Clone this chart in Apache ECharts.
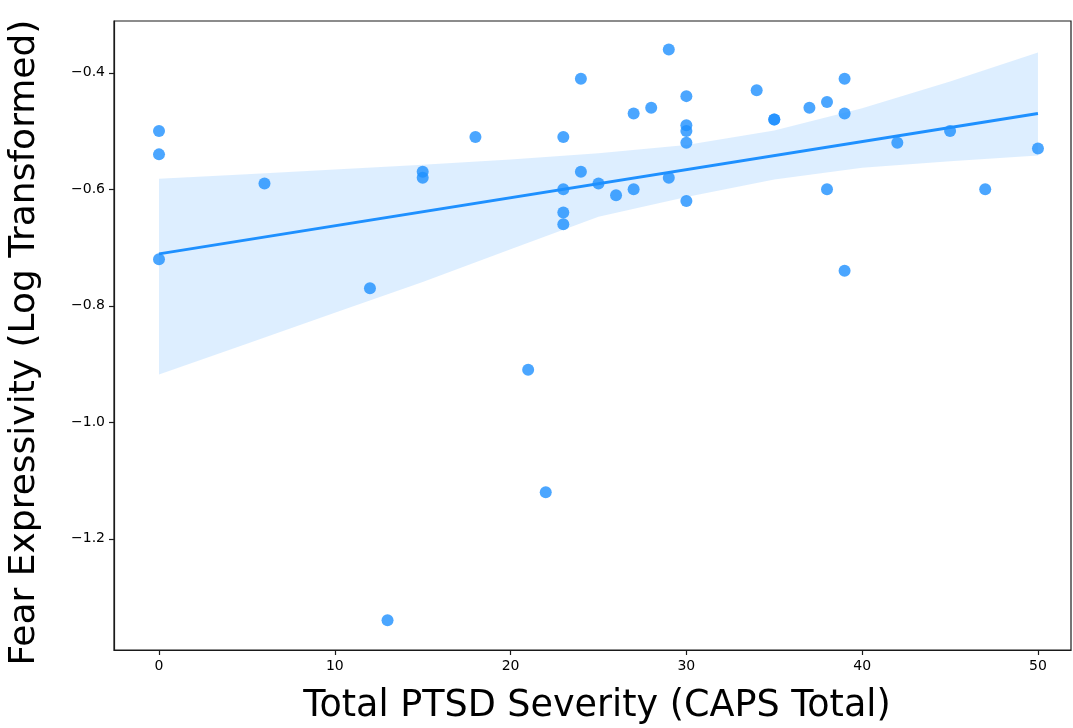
<!DOCTYPE html>
<html>
<head>
<meta charset="utf-8">
<title>Fear Expressivity vs PTSD Severity</title>
<script src="https://cdn.jsdelivr.net/npm/echarts@6/dist/echarts.min.js"></script>
<style>
  html, body { margin: 0; padding: 0; background: #fff; }
  #chart { width: 1073px; height: 728px; }
</style>
</head>
<body>
<div id="chart"></div>
<script>
// Participants: CAPS total score and log-transformed fear expressivity
const capsTotal = [0, 0, 0, 6, 12, 13, 15, 15, 18, 21, 22, 23, 23, 23, 23, 24, 24, 25, 26, 27, 27, 28, 29, 29,
  30, 30, 30, 30, 30, 34, 35, 35, 37, 38, 38, 39, 39, 39, 42, 45, 47, 50];
const fearExpr = [-0.50, -0.54, -0.72, -0.59, -0.77, -1.34, -0.57, -0.58, -0.51, -0.91, -1.12, -0.51, -0.60, -0.64, -0.66, -0.41, -0.57, -0.59, -0.61, -0.47, -0.60, -0.46, -0.36, -0.58,
  -0.44, -0.49, -0.50, -0.52, -0.62, -0.43, -0.48, -0.48, -0.46, -0.45, -0.60, -0.41, -0.47, -0.74, -0.52, -0.50, -0.60, -0.53];

// 95% confidence band around the fitted line
const bandX = [0, 5, 10, 15, 20, 25, 30, 35, 40, 45, 50];
const bandUpper = [-0.582, -0.574, -0.566, -0.558, -0.549, -0.538, -0.524, -0.499, -0.461, -0.415, -0.365];
const bandLower = [-0.918, -0.865, -0.812, -0.759, -0.703, -0.647, -0.613, -0.583, -0.563, -0.552, -0.542];

// Tick marks
const xTicks = [0, 10, 20, 30, 40, 50];
const yTicks = [-1.2, -1.0, -0.8, -0.6, -0.4];

// Ordinary least squares fit
function olsFit(xs, ys) {
  const n = xs.length;
  const mx = xs.reduce((a, b) => a + b, 0) / n;
  const my = ys.reduce((a, b) => a + b, 0) / n;
  let sxy = 0, sxx = 0;
  for (let i = 0; i < n; i++) {
    sxy += (xs[i] - mx) * (ys[i] - my);
    sxx += (xs[i] - mx) * (xs[i] - mx);
  }
  const slope = sxy / sxx;
  return { slope, intercept: my - slope * mx };
}
const fit = olsFit(capsTotal, fearExpr);
const xLo = Math.min(...capsTotal), xHi = Math.max(...capsTotal);
const fitLine = [[xLo, fit.intercept + fit.slope * xLo], [xHi, fit.intercept + fit.slope * xHi]];

const points = capsTotal.map((x, i) => [x, fearExpr[i]]);
const bandData = bandX.map((x, i) => [x, bandLower[i], bandUpper[i]]);

const FONT = 'DejaVu Sans';
const fmtMinus = v => String(Number(v).toFixed(1)).replace('-', '\u2212');

const chart = echarts.init(document.getElementById('chart'), null, { renderer: 'canvas' });
chart.setOption({
  animation: false,
  backgroundColor: '#ffffff',
  grid: {
    left: 114, top: 21, right: 2, bottom: 78,
    outerBoundsMode: 'none',
    containLabel: false,
    show: true, borderColor: '#1a1a1a', borderWidth: 1.2, backgroundColor: 'transparent'
  },
  xAxis: {
    type: 'value',
    min: -2.56, max: 51.88,
    name: 'Total PTSD Severity (CAPS Total)',
    nameLocation: 'middle',
    nameGap: 38,
    nameTextStyle: { fontFamily: FONT, fontSize: 36.5, color: '#000', padding: [0, 0, 0, 9] },
    axisLine: { show: true, onZero: false, lineStyle: { color: '#1a1a1a', width: 1.2 } },
    axisTick: { show: true, inside: false, length: 5, customValues: xTicks, lineStyle: { color: '#1a1a1a', width: 1.2 } },
    axisLabel: { customValues: xTicks, fontFamily: FONT, fontSize: 14, color: '#000', margin: 9 },
    splitLine: { show: false }
  },
  yAxis: {
    type: 'value',
    min: -1.391, max: -0.311,
    name: 'Fear Expressivity (Log Transformed)',
    nameLocation: 'middle',
    nameGap: 71,
    nameRotate: 90,
    nameTextStyle: { fontFamily: FONT, fontSize: 36, color: '#000', padding: [0, 14, 0, 0] },
    axisLine: { show: true, onZero: false, lineStyle: { color: '#1a1a1a', width: 1.2 } },
    axisTick: { show: true, inside: false, length: 5, customValues: yTicks, lineStyle: { color: '#1a1a1a', width: 1.2 } },
    axisLabel: { customValues: yTicks, fontFamily: FONT, fontSize: 14, color: '#000', margin: 9, formatter: fmtMinus },
    splitLine: { show: false }
  },
  series: [
    {
      // confidence band polygon: lower edge forward, upper edge back
      type: 'custom',
      z: 1,
      silent: true,
      data: bandData,
      renderItem: function (params, api) {
        if (params.dataIndex !== 0) return null;
        const lower = bandData.map(d => api.coord([d[0], d[1]]));
        const upper = bandData.map(d => api.coord([d[0], d[2]])).reverse();
        return {
          type: 'polygon',
          shape: { points: lower.concat(upper) },
          style: { fill: 'rgba(30,144,255,0.15)', stroke: null }
        };
      },
      clip: true
    },
    {
      type: 'scatter',
      z: 2,
      data: points,
      symbolSize: 12,
      itemStyle: { color: '#1E90FF', opacity: 0.8 }
    },
    {
      type: 'line',
      z: 3,
      data: fitLine,
      showSymbol: false,
      symbol: 'none',
      lineStyle: { color: '#1E90FF', width: 3 }
    }
  ]
});
</script>
</body>
</html>
